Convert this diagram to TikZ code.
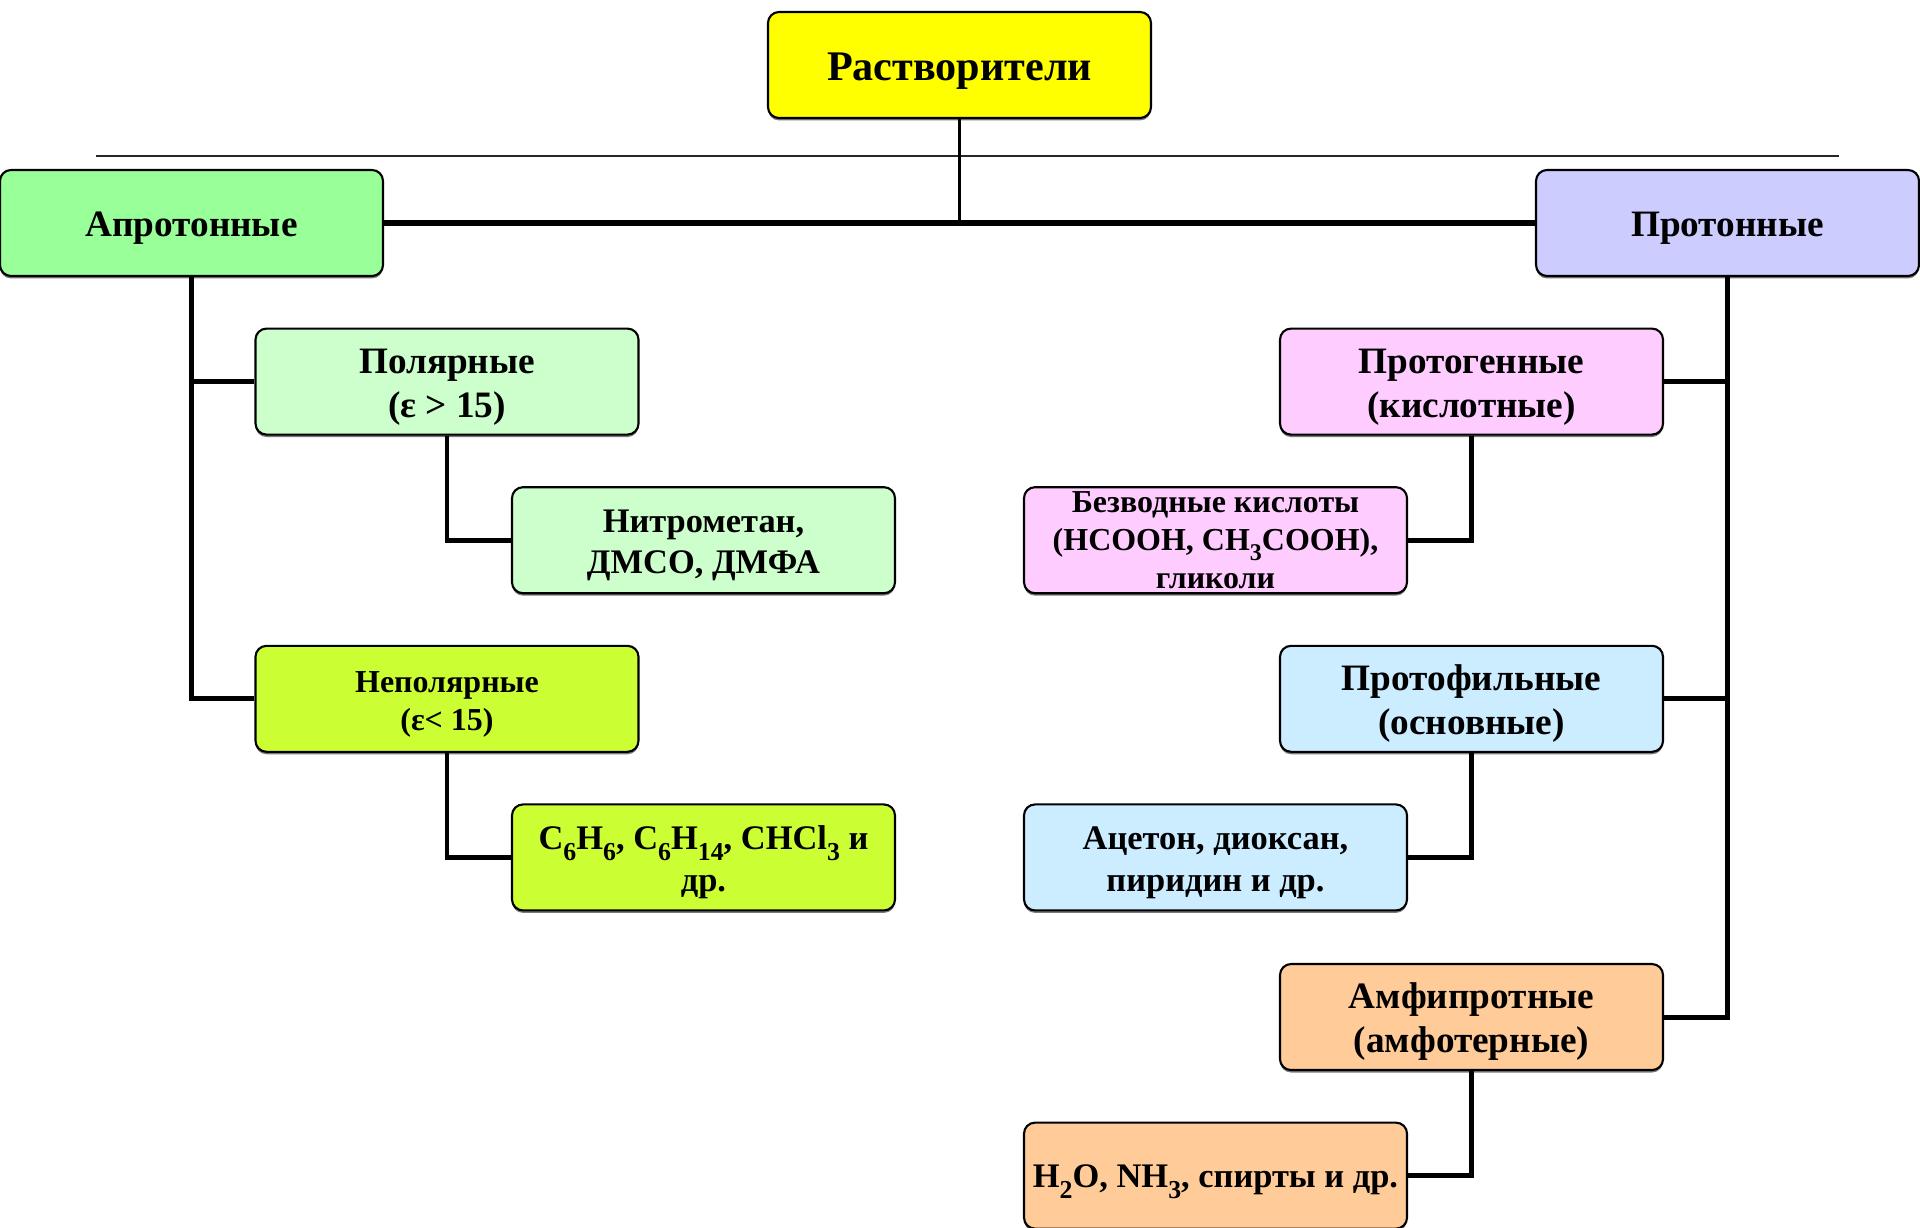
\documentclass[tikz,border=0pt]{standalone}
\usepackage{fontspec}
\setmainfont{Liberation Serif}
\usetikzlibrary{positioning,shadows}
\definecolor{RootYellow}{HTML}{FFFF00}
\definecolor{AprotGreen}{HTML}{99FF99}
\definecolor{ProtLilac}{HTML}{CCCCFF}
\definecolor{PolarMint}{HTML}{CCFFCC}
\definecolor{NonpolarLime}{HTML}{CCFF33}
\definecolor{AcidPink}{HTML}{FFCCFF}
\definecolor{BaseBlue}{HTML}{CCECFF}
\definecolor{AmphiPeach}{HTML}{FFCC99}
\newcommand{\chsub}[1]{\raisebox{-0.65ex}{\scalebox{0.75}{#1}}}

\begin{document}
\begin{tikzpicture}[
  box/.style={rectangle, draw=black, line width=0.6pt, minimum width=3.83cm, minimum height=1.06cm, align=center, inner sep=1pt, rounded corners=0.11cm, text height=22.6pt, font=\bfseries\fontsize{10.6}{12.5}\selectfont, drop shadow={shadow xshift=0pt, shadow yshift=-0.7pt, fill=black!65, opacity=0.8}},
  catbox/.style={box, text height=9.8pt},
  leafbox/.style={box, text height=21.3pt, font=\bfseries\fontsize{9.8}{11.8}\selectfont},
  smallbox/.style={box, text height=19.7pt, font=\bfseries\fontsize{9.1}{10.8}\selectfont},
  link/.style={line width=1.4pt},
  mainlink/.style={line width=1.8pt},
  rootlink/.style={line width=1.1pt},
  rule/.style={line width=0.7pt, color=black!85}
]
  \useasboundingbox (0,0) rectangle (19.2,-12.28);

  % Nodes
  \node[catbox, fill=RootYellow, text height=11.2pt, font=\bfseries\fontsize{12}{13}\selectfont] (root) at (9.595,-0.65) {Растворители};
  \node[catbox, fill=AprotGreen] (aprot) at (1.915,-2.23) {Апротонные};
  \node[catbox, fill=ProtLilac] (prot) at (17.275,-2.23) {Протонные};

  \node[box, fill=PolarMint, below=0.505cm of aprot, xshift=2.555cm] (polar) {Полярные\\(ε > 15)};
  \node[leafbox, fill=PolarMint, below=0.505cm of polar, xshift=2.565cm] (nitro) {Нитрометан,\\ДМСО, ДМФА};
  \node[smallbox, fill=NonpolarLime, below=0.505cm of nitro, xshift=-2.565cm] (nonpolar) {Неполярные\\(ε< 15)};
  \node[leafbox, fill=NonpolarLime, below=0.505cm of nonpolar, xshift=2.565cm] (benz) {C\chsub{6}H\chsub{6}, C\chsub{6}H\chsub{14}, CHCl\chsub{3} и\\др.};

  \node[box, fill=AcidPink, below=0.505cm of prot, xshift=-2.56cm] (protogen) {Протогенные\\(кислотные)};
  \node[box, fill=AcidPink, below=0.505cm of protogen, xshift=-2.56cm,
    label={[font=\bfseries\fontsize{9.1}{10.9}\selectfont, align=center]center:Безводные кислоты\\(HCOOH, CH\chsub{3}COOH),\\гликоли}] (anhyd) {};
  \node[box, fill=BaseBlue, below=0.505cm of anhyd, xshift=2.56cm] (protophil) {Протофильные\\(основные)};
  \node[leafbox, fill=BaseBlue, below=0.505cm of protophil, xshift=-2.56cm] (aceton) {Ацетон, диоксан,\\пиридин и др.};
  \node[box, fill=AmphiPeach, below=0.515cm of aceton, xshift=2.56cm] (amphi) {Амфипротные\\(амфотерные)};
  \node[leafbox, fill=AmphiPeach, text height=10pt, below=0.505cm of amphi, xshift=-2.56cm] (water) {H\chsub{2}O, NH\chsub{3}, спирты и др.};

  % Connections
  \coordinate (ruleL) at (0.96,-1.56);
  \coordinate (ruleR) at (18.39,-1.56);
  \draw[rule] (ruleL) -- (ruleR);
  \draw[rootlink] (root) -- (root |- aprot);
  \draw[mainlink] (aprot) -- (prot);

  \draw[link] (aprot) |- (polar);
  \draw[link] (aprot) |- (nonpolar);
  \draw[link] (polar) |- (nitro);
  \draw[link] (nonpolar) |- (benz);

  \draw[link] (prot) |- (protogen);
  \draw[link] (prot) |- (protophil);
  \draw[link] (prot) |- (amphi);
  \draw[link] (protogen) |- (anhyd);
  \draw[link] (protophil) |- (aceton);
  \draw[link] (amphi) |- (water);

\end{tikzpicture}
\end{document}
